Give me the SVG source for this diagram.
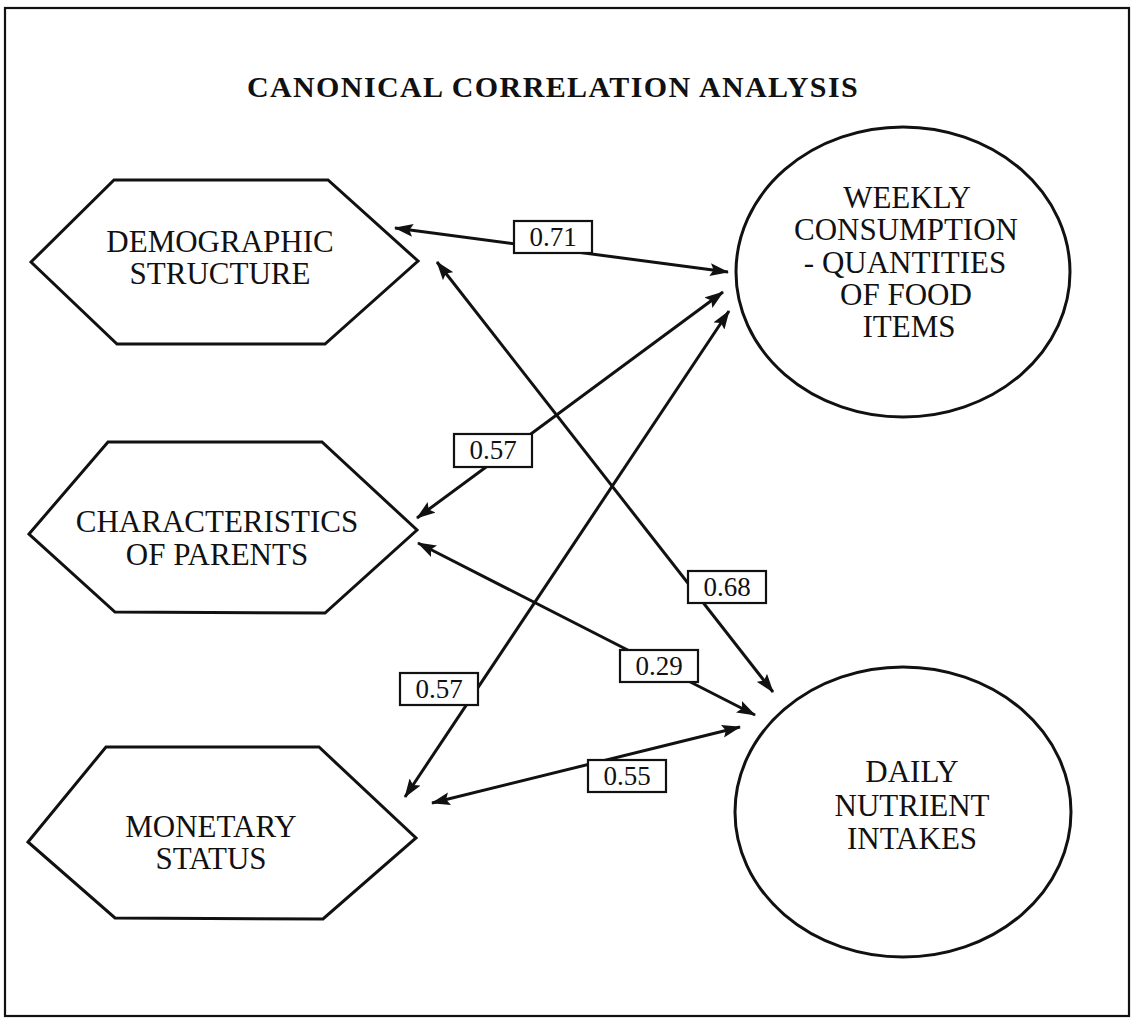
<svg xmlns="http://www.w3.org/2000/svg" width="1136" height="1019" viewBox="0 0 1136 1019">
<style>
.shape{fill:#fff;stroke:#111;stroke-width:3}
.t{font-family:"Liberation Serif","Times New Roman",serif;font-size:31px;fill:#111;text-anchor:middle}
.title{font-family:"Liberation Serif","Times New Roman",serif;font-size:30px;font-weight:bold;fill:#111;text-anchor:middle;letter-spacing:1.4px}
.conn{stroke:#111;stroke-width:3;fill:none;marker-start:url(#ah);marker-end:url(#ah)}
.lbox{fill:#fff;stroke:#111;stroke-width:2.2}
.lt{font-family:"Liberation Serif","Times New Roman",serif;font-size:27px;fill:#111;text-anchor:middle}
</style>
<defs>
<marker id="ah" markerUnits="userSpaceOnUse" viewBox="0 0 19 13" refX="18" refY="6.5" markerWidth="19" markerHeight="13" orient="auto-start-reverse">
<path d="M0,0 L19,6.5 L0,13 L3.5,6.5 z" fill="#111"/>
</marker>
</defs>
<rect x="5" y="8" width="1124" height="1008" fill="#fff" stroke="#111" stroke-width="2.2"/>
<text class="title" x="553" y="97">CANONICAL CORRELATION ANALYSIS</text>

<g id="node-demographic">
<polygon class="shape" points="31,262 114,180 328,180 418,261 325,344 117,344"/>
<text class="t" x="220" y="252">DEMOGRAPHIC</text>
<text class="t" x="220" y="284">STRUCTURE</text>
</g>
<g id="node-characteristics">
<polygon class="shape" points="29,534 108,442 322,442 417,530 325,613 115,612"/>
<text class="t" x="217" y="532">CHARACTERISTICS</text>
<text class="t" x="217" y="565">OF PARENTS</text>
</g>
<g id="node-monetary">
<polygon class="shape" points="28,842 106,747 319,747 416,838 323,919 115,918"/>
<text class="t" x="211" y="837">MONETARY</text>
<text class="t" x="211" y="869">STATUS</text>
</g>
<g id="node-weekly">
<ellipse class="shape" cx="903" cy="272" rx="167" ry="145"/>
<text class="t" x="907" y="208">WEEKLY</text>
<text class="t" x="906" y="240">CONSUMPTION</text>
<text class="t" x="905" y="273">- QUANTITIES</text>
<text class="t" x="906" y="305">OF FOOD</text>
<text class="t" x="909" y="337">ITEMS</text>
</g>
<g id="node-daily">
<ellipse class="shape" cx="903" cy="812" rx="168" ry="145"/>
<text class="t" x="912" y="782">DAILY</text>
<text class="t" x="912" y="816">NUTRIENT</text>
<text class="t" x="912" y="849">INTAKES</text>
</g>

<g id="connectors">
<line class="conn" x1="395" y1="228" x2="728" y2="272"/>
<line class="conn" x1="437" y1="262" x2="773" y2="692"/>
<line class="conn" x1="417" y1="518" x2="723" y2="292"/>
<line class="conn" x1="405" y1="797" x2="729" y2="311"/>
<line class="conn" x1="418" y1="543" x2="755" y2="715"/>
<line class="conn" x1="432" y1="803" x2="740" y2="727"/>
<g id="label-071"><rect class="lbox" x="514" y="221" width="78" height="32"/><text class="lt" x="553" y="246">0.71</text></g>
<g id="label-068"><rect class="lbox" x="688" y="571" width="78" height="32"/><text class="lt" x="727" y="596">0.68</text></g>
<g id="label-057a"><rect class="lbox" x="454" y="434" width="78" height="33"/><text class="lt" x="493" y="459">0.57</text></g>
<g id="label-057b"><rect class="lbox" x="400" y="673" width="78" height="32"/><text class="lt" x="439" y="698">0.57</text></g>
<g id="label-029"><rect class="lbox" x="620" y="650" width="78" height="32"/><text class="lt" x="659" y="675">0.29</text></g>
<g id="label-055"><rect class="lbox" x="588" y="760" width="78" height="32"/><text class="lt" x="627" y="785">0.55</text></g>
</g>
</svg>
